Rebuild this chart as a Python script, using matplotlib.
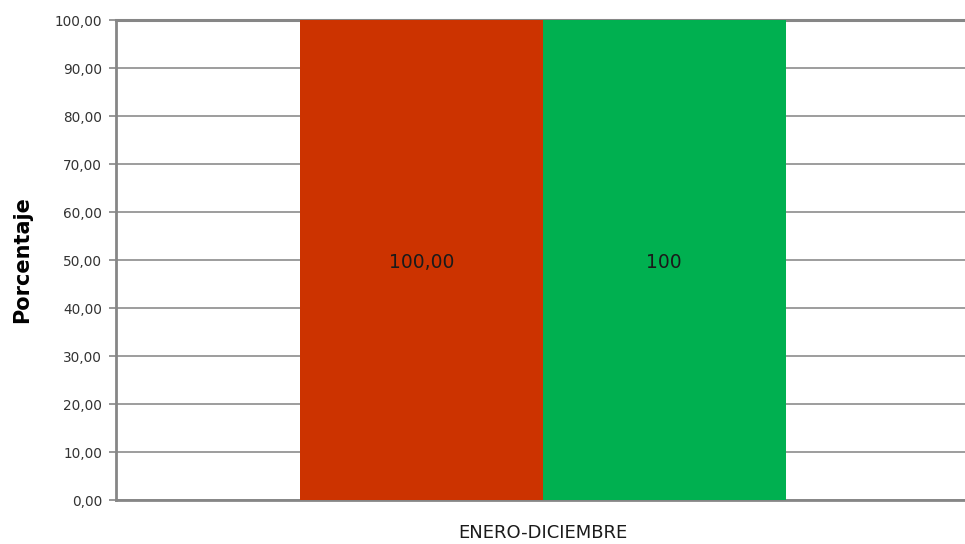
import matplotlib.pyplot as plt
from matplotlib.ticker import FuncFormatter

# data
categorias = ["ENERO-DICIEMBRE"]
serie_1 = [100.00]
serie_2 = [100]
etiquetas_1 = ["100,00"]
etiquetas_2 = ["100"]
colores = ["#CC3300", "#00B050"]

fig = plt.figure(figsize=(9.65, 5.44), dpi=100)
ax = fig.add_axes([116 / 965, 44 / 544, 854 / 965, 480 / 544])

ancho = 0.284
x = list(range(len(categorias)))
b1 = ax.bar([i - ancho for i in x], serie_1, width=ancho, align="edge", color=colores[0], zorder=3)
b2 = ax.bar(x, serie_2, width=ancho, align="edge", color=colores[1], zorder=3)

for rect, txt in zip(b1, etiquetas_1):
    ax.text(rect.get_x() + rect.get_width() / 2, 49.4, txt, ha="center", va="center",
            fontsize=13.5, color="#1a1a1a", zorder=4)
for rect, txt in zip(b2, etiquetas_2):
    ax.text(rect.get_x() + rect.get_width() / 2, 49.4, txt, ha="center", va="center",
            fontsize=13.5, color="#1a1a1a", zorder=4)

ax.set_xlim(-0.5, 0.5)
ax.set_ylim(0, 100)
ax.set_yticks(range(0, 101, 10))
ax.yaxis.set_major_formatter(FuncFormatter(lambda v, p: f"{v:.2f}".replace(".", ",")))
ax.set_xticks(x)
ax.set_xticklabels(categorias, fontsize=13, color="#1a1a1a")
ax.tick_params(axis="x", length=0, pad=17)
ax.tick_params(axis="y", length=5, width=1.2, color="#868686", labelsize=9.8,
               labelcolor="#333333", pad=5)

ax.grid(axis="y", color="#8c8c8c", linewidth=1.2, zorder=0)
for s in ["top", "right"]:
    ax.spines[s].set_visible(False)
for s in ["left", "bottom"]:
    ax.spines[s].set_color("#868686")
    ax.spines[s].set_linewidth(2)
ax.axhline(100, color="#868686", linewidth=2.2, zorder=2, clip_on=False)

ax.set_ylabel("Porcentaje", fontsize=15, fontweight="bold")
ax.yaxis.set_label_coords(-84 / 854, 0.5)

fig.savefig("out.png", dpi=100)
